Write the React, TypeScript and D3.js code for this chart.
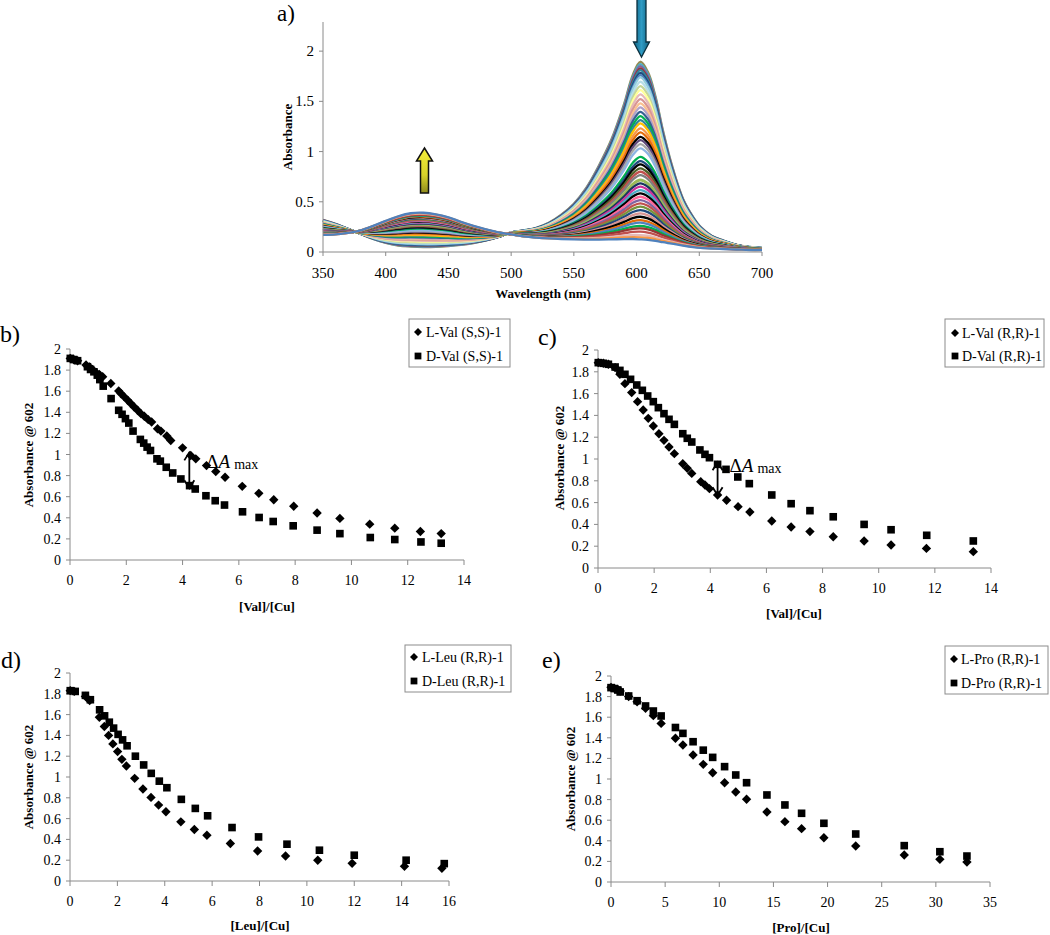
import React from "react";
import * as d3 from "d3";

const FONT = '"Liberation Serif", "DejaVu Serif", "Times New Roman", serif';

// ---------- Panel a: UV-vis titration spectra ----------
const wavelengthGrid = [350, 360, 370, 375, 380, 390, 400, 410, 420, 430, 440, 450, 460, 470, 480, 490, 500, 510, 520, 530, 540, 550, 560, 570, 580, 590, 597, 603, 609, 615, 621, 628, 637, 645, 651, 660, 669, 680, 690, 700];
// first spectrum of the titration (Cu complex, strong 602 nm band)
const startSpectrum = [0.32, 0.28, 0.23, 0.205, 0.18, 0.13, 0.09, 0.065, 0.055, 0.05, 0.052, 0.06, 0.072, 0.09, 0.115, 0.15, 0.195, 0.215, 0.24, 0.29, 0.37, 0.48, 0.64, 0.86, 1.12, 1.47, 1.76, 1.89, 1.79, 1.55, 1.21, 0.87, 0.53, 0.35, 0.25, 0.16, 0.115, 0.07, 0.05, 0.04];
// last spectrum of the titration (425 nm band)
const endSpectrum = [0.17, 0.175, 0.19, 0.2, 0.215, 0.26, 0.31, 0.355, 0.385, 0.39, 0.375, 0.345, 0.3, 0.26, 0.225, 0.195, 0.175, 0.155, 0.143, 0.135, 0.13, 0.127, 0.125, 0.125, 0.128, 0.132, 0.133, 0.13, 0.125, 0.115, 0.1, 0.085, 0.065, 0.05, 0.042, 0.035, 0.03, 0.025, 0.02, 0.02];
// absorbance at the 602 nm maximum of every recorded spectrum
const peakAbsorbance602 = [1.894, 1.871, 1.851, 1.828, 1.811, 1.784, 1.761, 1.738, 1.695, 1.652, 1.612, 1.569, 1.522, 1.479, 1.44, 1.396, 1.353, 1.313, 1.28, 1.231, 1.191, 1.147, 1.114, 1.075, 1.032, 0.948, 0.905, 0.872, 0.833, 0.799, 0.766, 0.716, 0.683, 0.65, 0.616, 0.583, 0.55, 0.517, 0.484, 0.451, 0.417, 0.384, 0.351, 0.318, 0.292, 0.259, 0.235, 0.202, 0.169, 0.146, 0.126];
const curveColors = ["#948A54", "#4BACC6", "#8064A2", "#953735", "#31859C", "#1F497D", "#4F81BD", "#93CDDD", "#B7DEE8", "#C3D69B", "#FFFF99", "#E6B9B8", "#D99694", "#FAC090", "#B3A2C7", "#376092", "#00B050", "#31859C", "#FFC000", "#F79646", "#E46C0A", "#000000", "#604A7B", "#A6A6A6", "#8EB4E3", "#00B050", "#1F497D", "#000000", "#4F6228", "#C0504D", "#7F7F7F", "#9BBB59", "#17375E", "#CC3399", "#4BACC6", "#000000", "#FF6699", "#8064A2", "#C0504D", "#77933C", "#1F497D", "#D99694", "#000000", "#E46C0A", "#4F81BD", "#00B050", "#953735", "#C0504D", "#E6B9B8", "#F79646", "#4F81BD"];
const wavelengthTicks = [350, 400, 450, 500, 550, 600, 650, 700];
const spectrumAbsTicks = [0, 0.5, 1, 1.5, 2];

// ---------- Panels b-e: absorbance at 602 nm vs ratio ----------
const absTicks = [0, 0.2, 0.4, 0.6, 0.8, 1, 1.2, 1.4, 1.6, 1.8, 2];
const valTicks = [0, 2, 4, 6, 8, 10, 12, 14];
const leuTicks = [0, 2, 4, 6, 8, 10, 12, 14, 16];
const proTicks = [0, 5, 10, 15, 20, 25, 30, 35];

const lValSS: [number, number][] = [[0.01, 1.911], [0.13, 1.9], [0.27, 1.889], [0.57, 1.848], [0.69, 1.83], [0.8, 1.806], [0.92, 1.778], [1.04, 1.759], [1.16, 1.737], [1.45, 1.673], [1.73, 1.603], [1.81, 1.578], [1.93, 1.546], [2.05, 1.514], [2.16, 1.483], [2.28, 1.45], [2.4, 1.419], [2.52, 1.387], [2.64, 1.362], [2.78, 1.33], [2.9, 1.308], [3.11, 1.244], [3.23, 1.222], [3.44, 1.175], [3.58, 1.133], [4.0, 1.063], [4.29, 0.99], [4.47, 0.959], [4.85, 0.895], [5.18, 0.838], [5.51, 0.784], [6.12, 0.698], [6.71, 0.632], [7.24, 0.571], [7.95, 0.51], [8.78, 0.445], [9.59, 0.394], [10.65, 0.34], [11.54, 0.302], [12.45, 0.27], [13.19, 0.25]];
const dValSS: [number, number][] = [[0.01, 1.911], [0.13, 1.9], [0.27, 1.889], [0.62, 1.832], [0.73, 1.806], [0.85, 1.784], [0.97, 1.752], [1.06, 1.71], [1.18, 1.648], [1.46, 1.53], [1.73, 1.419], [1.85, 1.381], [1.97, 1.34], [2.09, 1.298], [2.24, 1.222], [2.5, 1.143], [2.62, 1.108], [2.74, 1.07], [2.86, 1.038], [3.09, 0.959], [3.21, 0.937], [3.42, 0.879], [3.65, 0.825], [3.94, 0.768], [4.25, 0.705], [4.45, 0.673], [4.83, 0.609], [5.16, 0.562], [5.49, 0.521], [6.13, 0.457], [6.72, 0.403], [7.22, 0.365], [7.93, 0.324], [8.78, 0.283], [9.59, 0.25], [10.67, 0.213], [11.54, 0.194], [12.47, 0.171], [13.19, 0.159]];

const lValRR: [number, number][] = [[0.01, 1.884], [0.19, 1.878], [0.37, 1.869], [0.61, 1.838], [0.78, 1.777], [0.96, 1.691], [1.2, 1.609], [1.41, 1.526], [1.61, 1.45], [1.79, 1.373], [1.97, 1.303], [2.17, 1.232], [2.35, 1.171], [2.53, 1.11], [2.72, 1.049], [3.02, 0.957], [3.18, 0.914], [3.34, 0.868], [3.66, 0.792], [3.81, 0.761], [3.97, 0.728], [4.26, 0.67], [4.58, 0.621], [4.99, 0.563], [5.41, 0.514], [6.19, 0.431], [6.88, 0.376], [7.55, 0.334], [8.38, 0.287], [9.48, 0.248], [10.44, 0.211], [11.7, 0.18], [13.37, 0.15]];
const dValRR: [number, number][] = [[0.01, 1.884], [0.19, 1.878], [0.37, 1.869], [0.61, 1.844], [0.78, 1.813], [0.96, 1.777], [1.16, 1.731], [1.38, 1.679], [1.58, 1.63], [1.77, 1.578], [1.97, 1.526], [2.15, 1.471], [2.35, 1.416], [2.53, 1.364], [2.72, 1.318], [3.02, 1.232], [3.18, 1.19], [3.34, 1.156], [3.63, 1.083], [3.81, 1.043], [3.97, 1.012], [4.26, 0.951], [4.56, 0.905], [4.98, 0.835], [5.39, 0.774], [6.19, 0.67], [6.88, 0.59], [7.55, 0.526], [8.38, 0.47], [9.48, 0.4], [10.44, 0.351], [11.71, 0.3], [13.37, 0.248]];

const lLeuRR: [number, number][] = [[0.01, 1.83], [0.18, 1.823], [0.65, 1.775], [0.83, 1.736], [1.24, 1.575], [1.45, 1.485], [1.63, 1.4], [1.81, 1.318], [2.01, 1.244], [2.19, 1.17], [2.38, 1.106], [2.73, 0.987], [3.08, 0.884], [3.42, 0.804], [3.74, 0.73], [4.05, 0.666], [4.68, 0.569], [5.25, 0.495], [5.78, 0.44], [6.77, 0.36], [7.92, 0.289], [9.1, 0.241], [10.46, 0.2], [11.91, 0.17], [14.12, 0.141], [15.7, 0.122]];
const dLeuRR: [number, number][] = [[0.01, 1.83], [0.22, 1.823], [0.65, 1.785], [0.86, 1.743], [1.25, 1.646], [1.46, 1.588], [1.66, 1.527], [1.84, 1.47], [2.03, 1.41], [2.22, 1.357], [2.41, 1.3], [2.76, 1.2], [3.11, 1.116], [3.43, 1.035], [3.77, 0.96], [4.09, 0.897], [4.7, 0.785], [5.29, 0.698], [5.81, 0.627], [6.84, 0.514], [7.96, 0.424], [9.16, 0.354], [10.53, 0.296], [12.0, 0.248], [14.19, 0.2], [15.8, 0.167]];

const lProRR: [number, number][] = [[0, 1.89], [0.31, 1.88], [0.63, 1.87], [0.85, 1.854], [1.63, 1.8], [2.41, 1.75], [3.19, 1.686], [3.91, 1.615], [4.63, 1.54], [5.95, 1.395], [6.64, 1.33], [7.58, 1.233], [8.52, 1.142], [9.39, 1.061], [10.49, 0.964], [11.52, 0.874], [12.52, 0.803], [14.4, 0.68], [16.06, 0.586], [17.6, 0.518], [19.66, 0.43], [22.6, 0.35], [27.08, 0.262], [30.37, 0.22], [32.87, 0.194]];
const dProRR: [number, number][] = [[0, 1.887], [0.31, 1.878], [0.63, 1.864], [0.85, 1.845], [1.63, 1.806], [2.41, 1.76], [3.19, 1.709], [3.91, 1.66], [4.63, 1.612], [5.95, 1.5], [6.64, 1.443], [7.58, 1.362], [8.52, 1.28], [9.39, 1.21], [10.49, 1.12], [11.52, 1.039], [12.52, 0.964], [14.4, 0.845], [16.06, 0.748], [17.6, 0.667], [19.66, 0.57], [22.6, 0.466], [27.08, 0.353], [30.37, 0.294], [32.87, 0.252]];

const AXIS = "#8a8a8a";
const diamondPath = d3.symbol(d3.symbolSquare, 44)() as string;
const squarePath = d3.symbol(d3.symbolSquare, 58)() as string;
const legendDiamond = d3.symbol(d3.symbolSquare, 32)() as string;
const legendSquare = d3.symbol(d3.symbolSquare, 46)() as string;

function SpectrumPanel() {
  const x = d3.scaleLinear().domain([350, 700]).range([323, 762]);
  const y = d3.scaleLinear().domain([0, 2.29]).range([252, 22]);
  const i603 = wavelengthGrid.indexOf(603);
  const line = d3
    .line<number>()
    .x((_, i) => x(wavelengthGrid[i]))
    .y((v) => y(v))
    .curve(d3.curveCatmullRom.alpha(0.5));
  const curves = peakAbsorbance602.map((p) => {
    const f = (p - endSpectrum[i603]) / (startSpectrum[i603] - endSpectrum[i603]);
    return startSpectrum.map((s, i) => endSpectrum[i] + f * (s - endSpectrum[i]));
  });
  return (
    <g>
      <defs>
        <linearGradient id="blueArrow" x1="0" x2="1" y1="0" y2="0">
          <stop offset="0" stopColor="#0d5f7e" />
          <stop offset="0.5" stopColor="#2f9bc4" />
          <stop offset="1" stopColor="#0d5f7e" />
        </linearGradient>
        <linearGradient id="yellowArrow" x1="0" x2="0" y1="0" y2="1">
          <stop offset="0" stopColor="#f4ef3a" />
          <stop offset="0.6" stopColor="#d8d22a" />
          <stop offset="1" stopColor="#8f8a1e" />
        </linearGradient>
      </defs>
      {curves.map((c, k) => (
        <path key={k} d={line(c) as string} fill="none" stroke={curveColors[k % curveColors.length]} strokeWidth={k === 31 ? 3 : 2.3} />
      ))}
      <line x1={x(350)} x2={x(350)} y1={22} y2={252} stroke={AXIS} />
      <line x1={x(350)} x2={x(700)} y1={252} y2={252} stroke={AXIS} />
      {spectrumAbsTicks.map((t) => (
        <g key={t}>
          <line x1={x(350) - 4} x2={x(350)} y1={y(t)} y2={y(t)} stroke={AXIS} />
          <text x={x(350) - 9} y={y(t) + 5} textAnchor="end" fontSize={15}>{String(t)}</text>
        </g>
      ))}
      {wavelengthTicks.map((t) => (
        <g key={t}>
          <line x1={x(t)} x2={x(t)} y1={252} y2={256} stroke={AXIS} />
          <text x={x(t)} y={278} textAnchor="middle" fontSize={15}>{String(t)}</text>
        </g>
      ))}
      <text transform="translate(292,137) rotate(-90)" textAnchor="middle" fontSize={13} fontWeight="bold">Absorbance</text>
      <text x={543} y={298} textAnchor="middle" fontSize={13} fontWeight="bold">Wavelength (nm)</text>
      <text x={277} y={21} fontSize={23}>a)</text>
      <path d="M637,-1 L646,-1 L646,42 L649.5,42 L641.5,57 L633.5,42 L637,42 Z" fill="url(#blueArrow)" stroke="#0b2f3d" strokeWidth={1.3} />
      <path d="M420.5,193 L428.5,193 L428.5,161 L432.5,161 L424.5,148 L416.5,161 L420.5,161 Z" fill="url(#yellowArrow)" stroke="#111" strokeWidth={1.5} />
    </g>
  );
}

type PanelCfg = {
  L: [number, number][];
  D: [number, number][];
  labels: string[];
  xTicks: number[];
  xMax: number;
  x0: number; x1: number; y0: number; y1: number;
  xTitle: string; xTitleX: number; xTitleY: number;
  yTitleX: number; yTitleY: number;
  panelLabel: string; plX: number; plY: number;
  legend: { x: number; y: number; w: number; h: number; mx: number; tx: number; r1: number; r2: number };
  delta?: { x: number; top: number; bot: number; dx: number; dy: number };
};

const panelConfigs: PanelCfg[] = [
  {
    L: lValSS, D: dValSS, labels: ["L-Val (S,S)-1", "D-Val (S,S)-1"], xTicks: valTicks, xMax: 14,
    x0: 70, x1: 464, y0: 560, y1: 349, xTitle: "[Val]/[Cu]", xTitleX: 267, xTitleY: 611,
    yTitleX: 28, yTitleY: 455, panelLabel: "b)", plX: 0, plY: 342,
    legend: { x: 409, y: 319, w: 101, h: 48, mx: 418, tx: 426, r1: 332, r2: 356 },
    delta: { x: 4.24, top: 1.02, bot: 0.68, dx: 17, dy: 16 },
  },
  {
    L: lValRR, D: dValRR, labels: ["L-Val (R,R)-1", "D-Val (R,R)-1"], xTicks: valTicks, xMax: 14,
    x0: 598, x1: 991, y0: 568, y1: 350, xTitle: "[Val]/[Cu]", xTitleX: 794, xTitleY: 618,
    yTitleX: 559, yTitleY: 458, panelLabel: "c)", plX: 538, plY: 345,
    legend: { x: 945, y: 319, w: 99, h: 48, mx: 955, tx: 962, r1: 333, r2: 356 },
    delta: { x: 4.26, top: 0.97, bot: 0.667, dx: 12, dy: 10 },
  },
  {
    L: lLeuRR, D: dLeuRR, labels: ["L-Leu (R,R)-1", "D-Leu (R,R)-1"], xTicks: leuTicks, xMax: 16,
    x0: 70, x1: 449, y0: 881, y1: 673, xTitle: "[Leu]/[Cu]", xTitleX: 260, xTitleY: 930,
    yTitleX: 28, yTitleY: 777, panelLabel: "d)", plX: 1, plY: 668,
    legend: { x: 405, y: 645, w: 106, h: 47, mx: 414, tx: 422, r1: 657, r2: 681 },
  },
  {
    L: lProRR, D: dProRR, labels: ["L-Pro (R,R)-1", "D-Pro (R,R)-1"], xTicks: proTicks, xMax: 35,
    x0: 611, x1: 990, y0: 882, y1: 676, xTitle: "[Pro]/[Cu]", xTitleX: 801, xTitleY: 932,
    yTitleX: 570, yTitleY: 779, panelLabel: "e)", plX: 542, plY: 668,
    legend: { x: 945, y: 646, w: 103, h: 48, mx: 954, tx: 961, r1: 659, r2: 683 },
  },
];

function ScatterPanel({ cfg }: { cfg: PanelCfg }) {
  const x = d3.scaleLinear().domain([0, cfg.xMax]).range([cfg.x0, cfg.x1]);
  const y = d3.scaleLinear().domain([0, 2]).range([cfg.y0, cfg.y1]);
  const lg = cfg.legend;
  return (
    <g>
      <line x1={cfg.x0} x2={cfg.x0} y1={cfg.y1} y2={cfg.y0} stroke={AXIS} />
      <line x1={cfg.x0} x2={cfg.x1} y1={cfg.y0} y2={cfg.y0} stroke={AXIS} />
      {absTicks.map((t) => (
        <g key={t}>
          <line x1={cfg.x0 - 4} x2={cfg.x0} y1={y(t)} y2={y(t)} stroke={AXIS} />
          <text x={cfg.x0 - 9} y={y(t) + 5} textAnchor="end" fontSize={14}>{String(t)}</text>
        </g>
      ))}
      {cfg.xTicks.map((t) => (
        <g key={t}>
          <line x1={x(t)} x2={x(t)} y1={cfg.y0} y2={cfg.y0 + 5} stroke={AXIS} />
          <text x={x(t)} y={cfg.y0 + 25} textAnchor="middle" fontSize={14}>{String(t)}</text>
        </g>
      ))}
      {cfg.D.map(([a, b], i) => (
        <path key={"d" + i} d={squarePath} transform={`translate(${x(a)},${y(b)})`} fill="#000" />
      ))}
      {cfg.L.map(([a, b], i) => (
        <path key={"l" + i} d={diamondPath} transform={`translate(${x(a)},${y(b)}) rotate(45)`} fill="#000" />
      ))}
      <text x={cfg.xTitleX} y={cfg.xTitleY} textAnchor="middle" fontSize={13} fontWeight="bold">{cfg.xTitle}</text>
      <text transform={`translate(${cfg.yTitleX},${cfg.yTitleY}) rotate(-90)`} textAnchor="middle" dominantBaseline="central" fontSize={13} fontWeight="bold">Absorbance @ 602</text>
      <text x={cfg.plX} y={cfg.plY} fontSize={24}>{cfg.panelLabel}</text>
      <rect x={lg.x} y={lg.y} width={lg.w} height={lg.h} fill="#fff" stroke="#8c8c8c" strokeWidth={1} />
      <path d={legendDiamond} transform={`translate(${lg.mx},${lg.r1}) rotate(45)`} fill="#000" />
      <path d={legendSquare} transform={`translate(${lg.mx},${lg.r2})`} fill="#000" />
      <text x={lg.tx} y={lg.r1 + 5} fontSize={14}>{cfg.labels[0]}</text>
      <text x={lg.tx} y={lg.r2 + 5} fontSize={14}>{cfg.labels[1]}</text>
      {cfg.delta && (() => {
        const dl = cfg.delta;
        const ax = x(dl.x);
        const yt = y(dl.top);
        const yb = y(dl.bot);
        return (
          <g>
            <line x1={ax} x2={ax} y1={yt} y2={yb} stroke="#000" strokeWidth={1.8} />
            <path d={`M${ax - 5},${yt + 8} L${ax},${yt} L${ax + 5},${yt + 8}`} fill="none" stroke="#000" strokeWidth={1.8} />
            <path d={`M${ax - 5},${yb - 8} L${ax},${yb} L${ax + 5},${yb - 8}`} fill="none" stroke="#000" strokeWidth={1.8} />
            <text x={ax + dl.dx} y={yt + dl.dy} fontSize={19}>
              <tspan>Δ</tspan>
              <tspan fontStyle="italic">A</tspan>
              <tspan fontSize={14} dx={4} dy={1}>max</tspan>
            </text>
          </g>
        );
      })()}
    </g>
  );
}

export default function App() {
  return (
    <svg
      width={1050}
      height={935}
      viewBox="0 0 1050 935"
      fontFamily={FONT}
      style={{ position: "absolute", left: 0, top: 0, background: "#fff", fontFamily: FONT }}
    >
      <rect x={0} y={0} width={1050} height={935} fill="#fff" />
      <SpectrumPanel />
      {panelConfigs.map((c, i) => (
        <ScatterPanel key={i} cfg={c} />
      ))}
    </svg>
  );
}
